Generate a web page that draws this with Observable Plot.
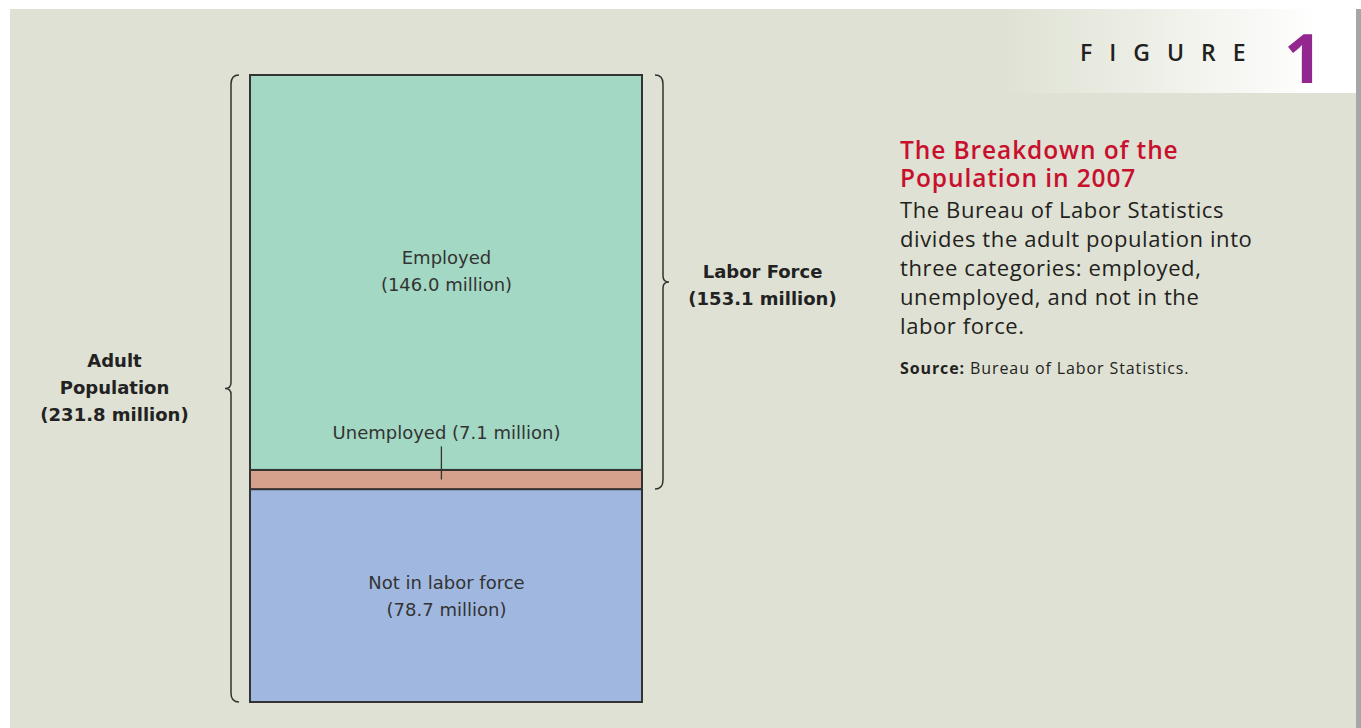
<!DOCTYPE html>
<html>
<head>
<meta charset="utf-8">
<script src="https://cdn.jsdelivr.net/npm/d3@7"></script>
<script src="https://cdn.jsdelivr.net/npm/@observablehq/plot@0.6"></script>
<style>
  html, body { margin: 0; padding: 0; background: #fff; }
  #wrap { position: relative; width: 1361px; height: 728px; overflow: hidden; }
  #bg { position: absolute; left: 10px; top: 9px; width: 1346px; height: 719px; background: #dee1d3; }
  #edge { position: absolute; left: 1356px; top: 9px; width: 5px; height: 719px; background: #a5a6a8; }
  #band { position: absolute; left: 1000px; top: 9px; width: 356px; height: 84px;
          background: linear-gradient(to right, #dee1d3 0%, #eef0e8 45%, #ffffff 90%); }
  #fig { position: absolute; left: 1080px; top: 36px; font-family: "Open Sans", sans-serif; font-size: 23px;
         letter-spacing: 17px; color: #231f20; font-weight: 600; }
  #num { position: absolute; left: 1284px; top: 10px; font-family: "Open Sans", sans-serif; font-size: 68px;
         font-weight: 700; color: #92278f; }
  #panel { position: absolute; left: 900px; top: 136px; width: 450px; font-family: "Open Sans", sans-serif; color: #231f20; }
  #title { font-size: 24.5px; line-height: 28px; color: #c8102e; font-weight: 600; letter-spacing: 0.9px; }
  #body { font-size: 22px; line-height: 29px; margin-top: 3px; letter-spacing: 0.6px; }
  #source { font-size: 16px; line-height: 20px; margin-top: 18px; letter-spacing: 0.9px; }
  #plot { position: absolute; left: 0; top: 0; }
</style>
</head>
<body>
<div id="wrap">
  <div id="bg"></div>
  <div id="edge"></div>
  <div id="band"></div>
  <div id="fig">FIGURE</div>
  <div id="num">1</div>
  <div id="panel">
    <div id="title">The Breakdown of the<br>Population in 2007</div>
    <div id="body">The Bureau of Labor Statistics<br>divides the adult population into<br>three categories: employed,<br>unemployed, and not in the<br>labor force.</div>
    <div id="source"><b>Source:</b> Bureau of Labor Statistics.</div>
  </div>
  <div id="plot"></div>
</div>
<script>
// Data
const categories = ["Not in labor force", "Unemployed", "Employed"];
const values = [78.7, 7.1, 146.0];
const colors = ["#a0b8e0", "#d5a18d", "#a3d8c4"];
const adultPopulation = 231.8;
const laborForce = 153.1;

// Stacked rows (bottom to top)
let acc = 0;
const rows = categories.map((c, i) => {
  const r = {category: c, value: values[i], y1: acc, y2: acc + values[i], color: colors[i]};
  acc += values[i];
  return r;
});

const font = "'DejaVu Sans', sans-serif";

function brace({y1, y2, side}) {
  return (index, scales) => {
    const top = scales.y(y2), bot = scales.y(y1), mid = (top + bot) / 2;
    let xe, xv, xt;
    if (side === "left") { xe = scales.x(0) - 11; xv = xe - 8; xt = xv - 6; }
    else { xe = scales.x(1) + 13; xv = xe + 8; xt = xv + 6; }
    const r = 9;
    const d = `M${xe},${top} Q${xv},${top} ${xv},${top + r} L${xv},${mid - 6} Q${xv},${mid} ${xt},${mid} ` +
              `Q${xv},${mid} ${xv},${mid + 6} L${xv},${bot - r} Q${xv},${bot} ${xe},${bot}`;
    return d3.create("svg:path").attr("d", d).attr("fill", "none")
      .attr("stroke", "#333").attr("stroke-width", 1.5).node();
  };
}

const employed = rows[2], unemployed = rows[1], notLF = rows[0];

const chart = Plot.plot({
  width: 1361,
  height: 728,
  margin: 0,
  style: {background: "transparent", overflow: "visible"},
  x: {domain: [0, 1], range: [250, 642], axis: null},
  y: {domain: [0, adultPopulation], range: [702, 75], axis: null},
  marks: [
    Plot.rect(rows, {x1: 0, x2: 1, y1: "y1", y2: "y2", fill: "color", stroke: "#333", strokeWidth: 2}),
    Plot.text([employed], {
      x: 0.5, y: d => (d.y1 + d.y2) / 2, dy: -4,
      text: d => `${d.category}\n(${d.value.toFixed(1)} million)`,
      fontSize: 18, fill: "#333", lineHeight: 1.5, fontFamily: font
    }),
    Plot.text([notLF], {
      x: 0.5, y: d => (d.y1 + d.y2) / 2, dy: -2,
      text: d => `${d.category}\n(${d.value.toFixed(1)} million)`,
      fontSize: 18, fill: "#333", lineHeight: 1.5, fontFamily: font
    }),
    Plot.text([unemployed], {
      x: 0.5, y: "y2", dy: -37,
      text: d => `${d.category} (${d.value.toFixed(1)} million)`,
      fontSize: 18, fill: "#333", fontFamily: font
    }),
    Plot.ruleX([unemployed], {x: 0.487, y1: d => (d.y1 + d.y2) / 2, y2: 94.5, stroke: "#333", strokeWidth: 1.3}),
    brace({y1: 0, y2: adultPopulation, side: "left"}),
    brace({y1: adultPopulation - laborForce, y2: adultPopulation, side: "right"}),
    Plot.text([adultPopulation], {
      x: 0, y: d => d / 2, dx: -136, dy: -4,
      text: d => `Adult\nPopulation\n(${d.toFixed(1)} million)`,
      fontSize: 18, fontWeight: "bold", fill: "#222", lineHeight: 1.5, fontFamily: font
    }),
    Plot.text([laborForce], {
      x: 1, y: d => adultPopulation - d / 2, dx: 120,
      text: d => `Labor Force\n(${d.toFixed(1)} million)`,
      fontSize: 18, fontWeight: "bold", fill: "#222", lineHeight: 1.5, fontFamily: font
    })
  ]
});
document.getElementById("plot").appendChild(chart);
</script>
</body>
</html>
